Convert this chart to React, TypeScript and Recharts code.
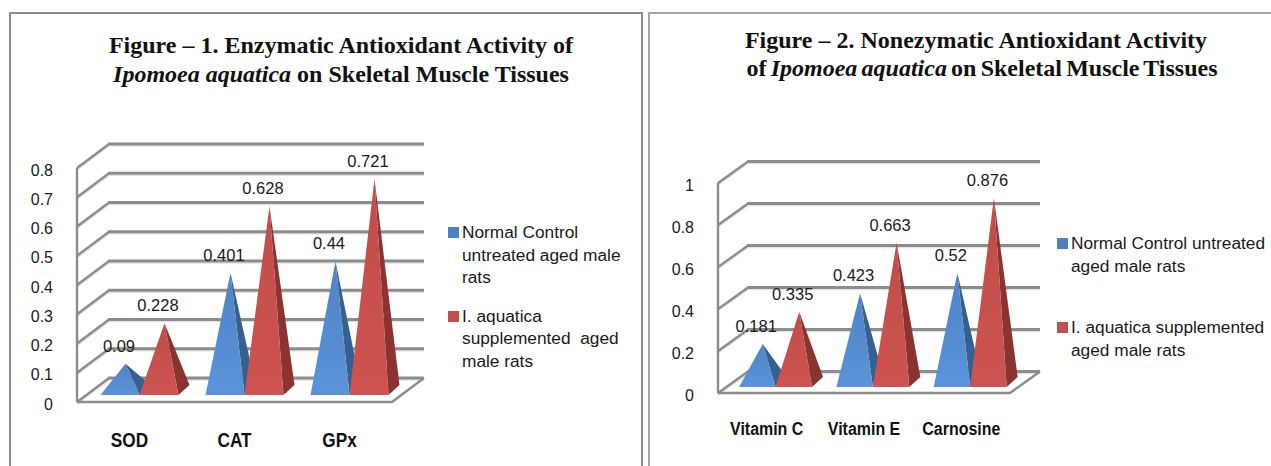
import { Bar, BarChart, CartesianGrid, LabelList, Legend, XAxis, YAxis } from 'recharts';

const enzymeCategories = ['SOD', 'CAT', 'GPx'];
const enzymeControl = [0.09, 0.401, 0.44];
const enzymeTreated = [0.228, 0.628, 0.721];
const enzymeTicks = [0, 0.1, 0.2, 0.3, 0.4, 0.5, 0.6, 0.7, 0.8];

const vitaminCategories = ['Vitamin C', 'Vitamin E', 'Carnosine'];
const vitaminControl = [0.181, 0.423, 0.52];
const vitaminTreated = [0.335, 0.663, 0.876];
const vitaminTicks = [0, 0.2, 0.4, 0.6, 0.8, 1];

const seriesNamesLeft = ['Normal Control untreated aged male rats', 'I. aquatica supplemented  aged male rats'];
const seriesNamesRight = ['Normal Control untreated aged male rats', 'I. aquatica supplemented aged male rats'];

const toRows = (categories: string[], control: number[], treated: number[]) =>
  categories.map((category, i) => ({ category, control: control[i], treated: treated[i] }));

const GREY = '#8c8c8c';
const SANS = '"Liberation Sans", Arial, sans-serif';

const pyramid =
  (gradientId: string, side: string, shiftX: number, shiftY: number) =>
  ({ x, y, width, height }: any) => {
    const left = x + shiftX;
    const right = left + width;
    const base = y + height + shiftY;
    const apexX = left + width / 2 + 5.5;
    const apexY = y + shiftY - 5;
    return (
      <g>
        <polygon points={`${right},${base} ${right + 11},${base - 10} ${apexX},${apexY}`} fill={side} />
        <polygon points={`${left},${base} ${right},${base} ${apexX},${apexY}`} fill={`url(#${gradientId})`} />
      </g>
    );
  };

const gridLine = (depthX: number, depthY: number) => (props: any) => {
  const { x1, x2, y1, y, height, index } = props;
  const isFloor = y1 > y + height - 1;
  const backY = y1 + depthY;
  return (
    <g key={index}>
      <polyline
        points={`${x1},${y1 + 2} ${x1 + depthX},${backY + 2}`}
        fill="none"
        stroke="#dcdcdc"
        strokeWidth={1.5}
      />
      <line x1={x1 + depthX} y1={backY + 2} x2={x2 + depthX} y2={backY + 2} stroke="#e3e3e3" strokeWidth={1.5} />
      <line x1={x1} y1={y1} x2={x1 + depthX} y2={backY} stroke={GREY} strokeWidth={2.2} />
      <line x1={x1 + depthX - 1} y1={backY} x2={x2 + depthX} y2={backY} stroke={GREY} strokeWidth={3} />
      {isFloor && (
        <polyline
          points={`${x1},${y1} ${x2},${y1} ${x2 + depthX},${backY}`}
          fill="none"
          stroke={GREY}
          strokeWidth={2.4}
        />
      )}
    </g>
  );
};

const valueLabel = (shiftX: number, lift: number) => (props: any) => {
  const box = props.viewBox ?? props;
  return (
    <text
      x={box.x + box.width / 2 + shiftX}
      y={box.y - lift}
      textAnchor="middle"
      fill="#1a1a1a"
      fontSize={16.5}
      fontFamily={SANS}
    >
      {props.value}
    </text>
  );
};

// bold category labels are condensed in the original
const categoryTick = (fontSize: number, squeeze: number, drop: number) => ({ x, y, payload }: any) => (
  <text
    transform={`translate(${x},${y + drop}) scale(${squeeze},1)`}
    textAnchor="middle"
    fill="#111"
    fontSize={fontSize}
    fontWeight={700}
    fontFamily={SANS}
  >
    {payload.value}
  </text>
);

const SeriesLegend = ({ payload, gap }: any) => (
  <div style={{ fontFamily: SANS, fontSize: 17.3, lineHeight: '22.6px', color: '#1a1a1a' }}>
    {(payload ?? []).map((entry: any, i: number) => (
      <div key={i} style={{ position: 'relative', paddingLeft: 14, marginBottom: gap, whiteSpace: 'pre-wrap' }}>
        <span
          style={{ position: 'absolute', left: 0, top: 6, width: 11, height: 11, background: entry.color }}
        />
        {entry.value}
      </div>
    ))}
  </div>
);

const Defs = () => (
  <defs>
    <linearGradient id="blueFace" x1="0" y1="0" x2="0" y2="1">
      <stop offset="0%" stopColor="#4f84c4" />
      <stop offset="100%" stopColor="#5b93da" />
    </linearGradient>
    <linearGradient id="redFace" x1="0" y1="0" x2="0" y2="1">
      <stop offset="0%" stopColor="#bf4d49" />
      <stop offset="100%" stopColor="#cd5450" />
    </linearGradient>
  </defs>
);

const titleStyle = {
  position: 'absolute',
  whiteSpace: 'nowrap',
  transform: 'translate(-50%, -50%)',
  fontFamily: '"Liberation Serif", "Times New Roman", serif',
  fontWeight: 700,
  fontSize: 24,
  color: '#111',
} as const;

const App = () => (
  <div style={{ position: 'absolute', left: 0, top: 0, width: 1271, height: 466, background: '#fff', overflow: 'hidden' }}>
    {/* panel frames */}
    <div style={{ position: 'absolute', left: 9, top: 12, width: 630, height: 470, border: `2px solid ${GREY}` }} />
    <div style={{ position: 'absolute', left: 648, top: 12, width: 640, height: 470, border: '2px solid #a6a6a6' }} />

    <div style={{ ...titleStyle, left: 341, top: 45 }}>Figure – 1. Enzymatic Antioxidant Activity of</div>
    <div style={{ ...titleStyle, left: 341, top: 74 }}>
      <i>Ipomoea aquatica</i> on Skeletal Muscle Tissues
    </div>
    <div style={{ ...titleStyle, left: 976, top: 40 }}>Figure – 2. Nonezymatic Antioxidant Activity</div>
    <div style={{ ...titleStyle, left: 982, top: 68, wordSpacing: -1.8 }}>
      of <i>Ipomoea aquatica</i> on Skeletal Muscle Tissues
    </div>

    <div style={{ position: 'absolute', left: 0, top: 0 }}>
      <BarChart
        width={645}
        height={466}
        data={toRows(enzymeCategories, enzymeControl, enzymeTreated)}
        margin={{ top: 168, right: 253, bottom: 0, left: 0 }}
        barGap={0}
        barSize={39}
      >
        <Defs />
        <CartesianGrid vertical={false} horizontal={gridLine(32, -24)} />
        <XAxis
          dataKey="category"
          height={64}
          interval={0}
          axisLine={false}
          tickLine={false}
          tickSize={0}
          tickMargin={0}
          tick={categoryTick(21, 0.82, 45)}
        />
        <YAxis
          width={77}
          domain={[0, 0.8]}
          ticks={enzymeTicks}
          interval={0}
          tickSize={0}
          tickMargin={24}
          axisLine={{ stroke: GREY, strokeWidth: 2.4 }}
          tickLine={false}
          tick={{ fill: '#1a1a1a', fontSize: 16, fontFamily: SANS, dy: 2 }}
        />
        <Legend
          layout="vertical"
          align="center"
          verticalAlign="middle"
          itemSorter={null}
          wrapperStyle={{ left: 448, top: 221, width: 176 }}
          content={(props: any) => <SeriesLegend {...props} gap={16} />}
        />
        <Bar
          dataKey="control"
          name={seriesNamesLeft[0]}
          fill="#4f81bd"
          shape={pyramid('blueFace', '#36608f', 9.5, -7)}
          isAnimationActive={false}
        >
          <LabelList dataKey="control" content={valueLabel(8.5, 24)} />
        </Bar>
        <Bar
          dataKey="treated"
          name={seriesNamesLeft[1]}
          fill="#c0504d"
          shape={pyramid('redFace', '#8a3331', 9.5, -7)}
          isAnimationActive={false}
        >
          <LabelList dataKey="treated" content={valueLabel(8.5, 24)} />
        </Bar>
      </BarChart>
    </div>

    <div style={{ position: 'absolute', left: 648, top: 0 }}>
      <BarChart
        width={623}
        height={466}
        data={toRows(vitaminCategories, vitaminControl, vitaminTreated)}
        margin={{ top: 183, right: 261, bottom: 0, left: 0 }}
        barGap={0}
        barSize={36.5}
      >
        <CartesianGrid vertical={false} horizontal={gridLine(30, -21.5)} />
        <XAxis
          dataKey="category"
          height={73}
          interval={0}
          axisLine={false}
          tickLine={false}
          tickSize={0}
          tickMargin={0}
          tick={categoryTick(19, 0.84, 42)}
        />
        <YAxis
          width={70}
          domain={[0, 1]}
          ticks={vitaminTicks}
          interval={0}
          tickSize={0}
          tickMargin={24}
          axisLine={{ stroke: GREY, strokeWidth: 2.4 }}
          tickLine={false}
          tick={{ fill: '#1a1a1a', fontSize: 16, fontFamily: SANS, dy: 2 }}
        />
        <Legend
          layout="vertical"
          align="center"
          verticalAlign="middle"
          itemSorter={null}
          wrapperStyle={{ left: 409, top: 232, width: 212 }}
          content={(props: any) => <SeriesLegend {...props} gap={39} />}
        />
        <Bar
          dataKey="control"
          name={seriesNamesRight[0]}
          fill="#4f81bd"
          shape={pyramid('blueFace', '#36608f', 9, -6)}
          isAnimationActive={false}
        >
          <LabelList dataKey="control" content={valueLabel(8, 23)} />
        </Bar>
        <Bar
          dataKey="treated"
          name={seriesNamesRight[1]}
          fill="#c0504d"
          shape={pyramid('redFace', '#8a3331', 9, -6)}
          isAnimationActive={false}
        >
          <LabelList dataKey="treated" content={valueLabel(8, 23)} />
        </Bar>
      </BarChart>
    </div>
  </div>
);

export default App;
